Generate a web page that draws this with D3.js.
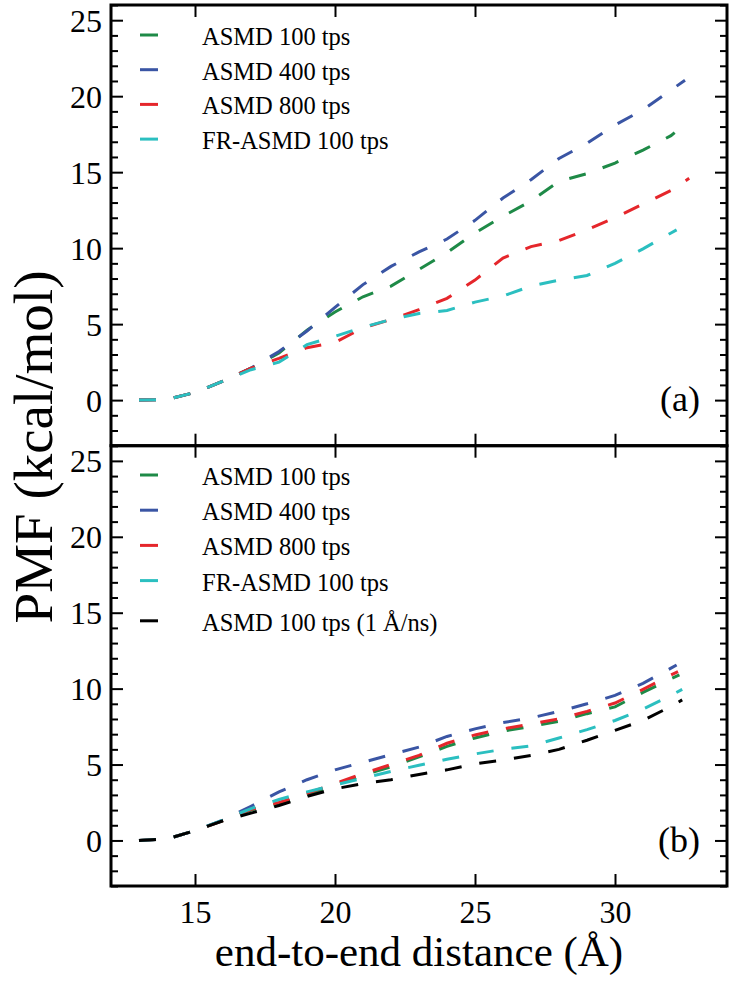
<!DOCTYPE html>
<html>
<head>
<meta charset="utf-8">
<script src="https://cdn.jsdelivr.net/npm/d3@7"></script>
<style>
  html, body { margin: 0; padding: 0; background: #fff; }
  svg text { font-family: "Liberation Serif", "Times New Roman", serif !important; fill: #000; }
</style>
</head>
<body>
<svg id="chart" width="733" height="991"></svg>
<script>
// ---------------- data ----------------
const distances = [13,14,15,16,17,18,19,20,21,22,23,24,25,26,27,28,29,30,31,32];

const seriesNames = ["ASMD 100 tps", "ASMD 400 tps", "ASMD 800 tps", "FR-ASMD 100 tps", "ASMD 100 tps (1 Å/ns)"];
const seriesColors = ["#1e8a47", "#3a55a4", "#e5262b", "#2bbfc0", "#000000"];

// panel (a)
const topGreen = [0,0.05,0.5,1.25,2.1,3.1,4.6,5.8,6.8,7.5,8.6,9.7,11.0,12.1,13.1,14.4,14.9,15.6,16.45,17.4];
const topBlue  = [0,0.05,0.5,1.25,2.1,3.2,4.55,6.1,7.6,8.8,9.75,10.6,11.83,13.3,14.5,15.9,16.9,18.1,19.1,20.4];
const topRed   = [0,0.05,0.5,1.25,2.1,2.75,3.45,3.8,4.75,5.3,5.95,6.7,7.9,9.35,10.1,10.5,11.2,12.0,12.9,13.8];
const topCyan  = [0,0.05,0.5,1.25,2.0,2.5,3.65,4.2,4.8,5.3,5.7,5.9,6.45,6.85,7.5,7.9,8.2,9.0,9.95,11.0];
const topEndDist  = [32.13, 32.5, 32.65, 32.2];
const topEndValue = [17.6, 21.05, 14.6, 11.2];

// panel (b)
const botGreen = [0,0.1,0.65,1.3,2.0,2.4,3.0,3.65,4.3,4.85,5.5,6.2,6.75,7.2,7.5,7.85,8.35,8.8,9.75,10.65];
const botBlue  = [0,0.1,0.65,1.35,2.25,3.2,4.0,4.65,5.15,5.65,6.15,6.85,7.35,7.76,8.07,8.5,9.0,9.55,10.35,11.35];
const botRed   = [0,0.1,0.65,1.3,2.05,2.5,3.1,3.75,4.4,5.0,5.6,6.4,6.95,7.35,7.67,8.0,8.5,9.05,9.95,10.9];
const botCyan  = [0,0.1,0.65,1.35,2.1,2.7,3.2,3.65,4.1,4.55,4.95,5.35,5.7,6.0,6.23,6.75,7.3,7.9,8.65,9.55];
const botBlack = [0,0.1,0.65,1.3,1.8,2.3,2.9,3.4,3.75,4.0,4.35,4.65,5.05,5.3,5.6,6.0,6.6,7.25,7.9,8.83];
const botEndDist  = [32.3, 32.2, 32.25, 32.4, 32.4];
const botEndValue = [10.9, 11.56, 11.12, 9.95, 9.26];

const xTicks = [15, 20, 25, 30];
const yTicks = [0, 5, 10, 15, 20, 25];
const panelLabels = ["(a)", "(b)"];
const xTitle = "end-to-end distance (Å)";
const yTitle = "PMF (kcal/mol)";

// ---------------- layout ----------------
const FONT = "'Liberation Serif', 'Times New Roman', serif";
const svg = d3.select("#chart");
const left = 111, right = 727;
const panels = [
  { top: 5, bottom: 445.7, series: [topGreen, topBlue, topRed, topCyan], endD: topEndDist, endV: topEndValue, legendY0: 35, legendStep: 34.7, label: panelLabels[0], labelY: 411 },
  { top: 445.7, bottom: 886, series: [botGreen, botBlue, botRed, botCyan, botBlack], endD: botEndDist, endV: botEndValue, legendY0: 475, legendStep: 35.2, label: panelLabels[1], labelY: 852 }
];

const x = d3.scaleLinear().domain([12, 34]).range([left, right]);
const minorY = d3.range(-3, 27).filter(v => v % 5 !== 0);

panels.forEach((p, pi) => {
  const y = d3.scaleLinear().domain([-3, 26]).range([p.bottom, p.top]);
  const g = svg.append("g");

  // lines
  const line = d3.line().x(d => x(d[0])).y(d => y(d[1]));
  p.series.forEach((vals, si) => {
    const pts = distances.map((d, i) => [d, vals[i]]).concat([[p.endD[si], p.endV[si]]]);
    g.append("path").datum(pts)
      .attr("d", line)
      .attr("fill", "none")
      .attr("stroke", seriesColors[si])
      .attr("stroke-width", 3)
      .attr("stroke-dasharray", "17,18");
  });

  // axes (inward ticks)
  const styleAxis = sel => {
    sel.attr("font-family", null).attr("font-size", null);
    sel.select(".domain").remove();
    sel.selectAll(".tick line").attr("stroke", "#000").attr("stroke-width", 2);
  };
  g.append("g").attr("transform", `translate(${left},0)`)
    .call(d3.axisLeft(y).tickValues(yTicks).tickSize(-12).tickPadding(9))
    .call(styleAxis)
    .call(s => s.selectAll(".tick text").style("font-size", "32px").style("font-family", FONT).attr("dy", "0.34em"));
  g.append("g").attr("transform", `translate(${left},0)`)
    .call(d3.axisLeft(y).tickValues(minorY).tickSize(-7).tickFormat(""))
    .call(styleAxis);
  g.append("g").attr("transform", `translate(${right},0)`)
    .call(d3.axisRight(y).tickValues(yTicks).tickSize(-12).tickFormat(""))
    .call(styleAxis);
  g.append("g").attr("transform", `translate(${right},0)`)
    .call(d3.axisRight(y).tickValues(minorY).tickSize(-7).tickFormat(""))
    .call(styleAxis);
  g.append("g").attr("transform", `translate(0,${p.top})`)
    .call(d3.axisTop(x).tickValues(xTicks).tickSize(-12).tickFormat(""))
    .call(styleAxis);
  const bottomAxis = g.append("g").attr("transform", `translate(0,${p.bottom})`)
    .call(d3.axisBottom(x).tickValues(xTicks).tickSize(-12).tickPadding(14)
      .tickFormat(pi === 1 ? d3.format("d") : ""))
    .call(styleAxis);
  bottomAxis.selectAll(".tick text").style("font-size", "32px").style("font-family", FONT).attr("dy", "0.71em");

  // frame
  g.append("rect")
    .attr("x", left).attr("y", p.top)
    .attr("width", right - left).attr("height", p.bottom - p.top)
    .attr("fill", "none").attr("stroke", "#000").attr("stroke-width", 3);

  // legend
  p.series.forEach((vals, si) => {
    const ly = p.legendY0 + si * p.legendStep + (si === 4 ? 5 : 0);
    g.append("line")
      .attr("x1", 140).attr("x2", 158).attr("y1", ly).attr("y2", ly)
      .attr("stroke", seriesColors[si]).attr("stroke-width", 3);
    g.append("text")
      .attr("x", 202).attr("y", ly + 10)
      .style("font-size", "24.5px")
      .text(seriesNames[si]);
  });

  // panel label
  g.append("text")
    .attr("x", 700).attr("y", p.labelY)
    .attr("text-anchor", "end")
    .style("font-size", "36px")
    .text(p.label);
});

// axis titles
svg.append("text")
  .attr("x", (left + right) / 2).attr("y", 966)
  .attr("text-anchor", "middle")
  .style("font-size", "43px")
  .text(xTitle);

svg.append("text")
  .attr("transform", `translate(52,447) rotate(-90)`)
  .attr("text-anchor", "middle")
  .style("font-size", "55px")
  .text(yTitle);
</script>
</body>
</html>
